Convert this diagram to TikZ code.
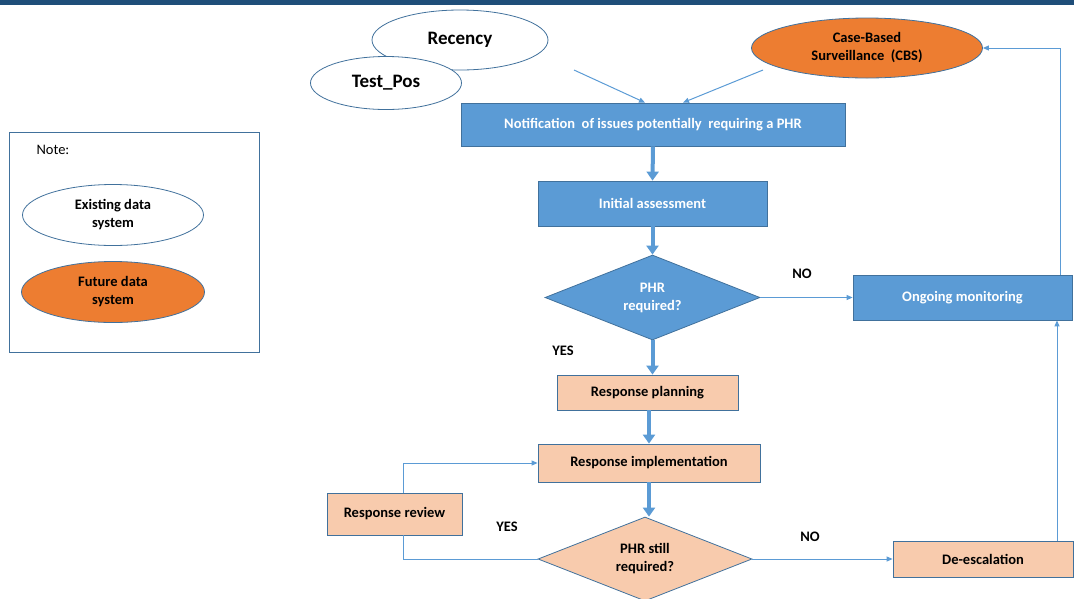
\documentclass[tikz,border=0pt]{standalone}
\usepackage{fontspec}
\setmainfont{Carlito}
\usetikzlibrary{shapes.geometric,arrows.meta}
\definecolor{bluefill}{HTML}{5B9BD5}
\definecolor{blueedge}{HTML}{41719C}
\definecolor{peach}{HTML}{F8CBAD}
\definecolor{orangef}{HTML}{ED7D31}
\definecolor{topbar}{HTML}{1F4E79}
\definecolor{linkc}{HTML}{5B9BD5}
\tikzset{
  mainfont/.style={font=\bfseries\fontsize{14.5}{18}\selectfont},
  bluebox/.style={draw=blueedge, fill=bluefill, text=white, mainfont, inner sep=0pt, line width=0.8pt},
  peachbox/.style={draw=blueedge, fill=peach, text=black, mainfont, inner sep=0pt, line width=0.8pt},
  existing/.style={ellipse, draw=blueedge, fill=white, text=black, align=center, inner sep=0pt, line width=0.8pt},
  future/.style={ellipse, draw=blueedge, fill=orangef, text=black, align=center, inner sep=0pt, line width=0.8pt},
  thin link/.style={draw=linkc, line width=1pt, -{Triangle[length=6pt,width=5pt]}},
  thin line/.style={draw=linkc, line width=1pt},
  thick link/.style={draw=linkc, line width=4pt, -{Triangle[length=9pt,width=12pt]}},
  lbl/.style={mainfont, text=black},
}
\begin{document}
\begin{tikzpicture}[x=1pt,y=-1pt]
\useasboundingbox (0,0) rectangle (1074,598);
\fill[topbar] (0,0) rectangle (1074,5);

% note box
\node[draw=blueedge, line width=0.8pt, minimum width=250pt, minimum height=220pt, inner sep=0pt] (note) at (134,242) {};
\node[anchor=west, font=\fontsize{14.5}{18}\selectfont] (notelbl) at (33,150) {Note:};
\node[existing, minimum width=181pt, minimum height=61pt, mainfont] (exist) at (113,215) {Existing data\\system};
\node[future, minimum width=183pt, minimum height=61pt, mainfont] (future) at (113,292) {Future data\\system};

% sources
\node[existing, minimum width=176pt, minimum height=60pt, font=\bfseries\fontsize{19}{22}\selectfont] (recency) at (460,40) {Recency};
\node[existing, minimum width=151pt, minimum height=53pt, font=\bfseries\fontsize{19}{22}\selectfont] (testpos) at (386,83) {Test\_Pos};
\node[future, minimum width=231pt, minimum height=60pt, mainfont] (cbs) at (867,48) {Case-Based\\Surveillance\ \ (CBS)};

% main flow
\node[bluebox, minimum width=384pt, minimum height=43pt] (notif) at (653,124.5) {Notification\ \ of issues potentially\ \ requiring a PHR};
\node[bluebox, minimum width=229pt, minimum height=45pt] (init) at (652.5,203.5) {Initial assessment};
\node[diamond, aspect=2.53, draw=blueedge, fill=bluefill, text=white, mainfont, align=center, inner sep=0pt, minimum width=215pt, minimum height=85pt, line width=0.8pt] (d1) at (652.5,297.5) {PHR\\required?};
\node[bluebox, minimum width=219pt, minimum height=45pt] (ongo) at (962.5,297.5) {Ongoing monitoring};
\node[peachbox, minimum width=181pt, minimum height=35pt] (plan) at (647.5,392.5) {Response planning};
\node[peachbox, minimum width=222pt, minimum height=38pt] (impl) at (649,463) {Response implementation};
\node[diamond, aspect=2.53, draw=blueedge, fill=peach, text=black, mainfont, align=center, inner sep=0pt, minimum width=214pt, minimum height=84pt, line width=0.8pt] (d2) at (645,559) {PHR still\\required?};
\node[peachbox, minimum width=135pt, minimum height=42pt] (review) at (394.5,514) {Response review};
\node[peachbox, minimum width=180pt, minimum height=36pt] (deesc) at (983,559) {De-escalation};

% labels
\node[lbl] (no1) at (802,274) {NO};
\node[lbl] (yes1) at (563,351) {YES};
\node[lbl] (yes2) at (507,527) {YES};
\node[lbl] (no2) at (810,537) {NO};

% connectors
\coordinate (rstart) at (574,70);
\coordinate (cstart) at (763,70);
\draw[thin link] (rstart) -- (notif.north -| 645,0);
\draw[thin link] (cstart) -- (notif.north -| 683,0);
\draw[thick link] (notif.south) -- (init.north);
\draw[thick link] (init.south) -- (d1.north);
\draw[thin link] (d1.east) -- (ongo.west);
\draw[thin link] (ongo.north -| 1060,0) -- (1060,48) -- (cbs.east);
\draw[thick link] (d1.south) -- (plan.north -| d1.south);
\draw[thick link] (plan.south -| impl.north) -- (impl.north);
\draw[thick link] (impl.south) -- (d2.north -| impl.south);
\draw[thin line] (d2.west) -- (403,559) -- (review.south -| 403,0);
\draw[thin link] (review.north -| 403,0) -- (403,463) -- (impl.west);
\draw[thin link] (d2.east) -- (deesc.west);
\draw[thin link] (deesc.north -| 1057,0) -- (ongo.south -| 1057,0);
\end{tikzpicture}
\end{document}
